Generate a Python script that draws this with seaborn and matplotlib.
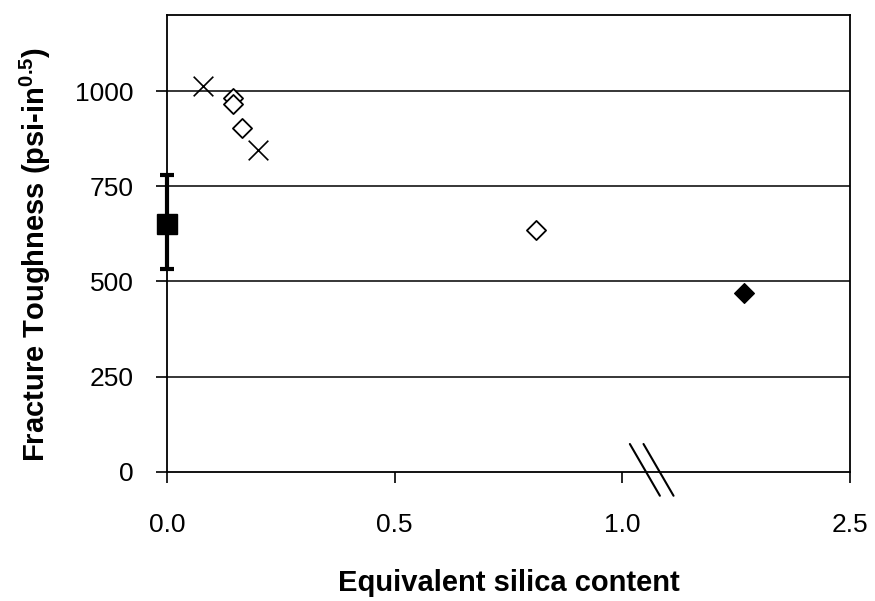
import matplotlib
matplotlib.use("Agg")
import matplotlib.pyplot as plt
import seaborn as sns

# axis positions (the axis is broken after 1.0; the last tick reads 2.5)
tick_pos = [0.0, 0.5, 1.0, 1.5]
tick_labels = ["0.0", "0.5", "1.0", "2.5"]
y_ticks = [0, 250, 500, 750, 1000]

cross_x = [0.079, 0.200]
cross_y = [1013, 846]

open_x = [0.145, 0.145, 0.164, 0.811]
open_y = [982, 966, 903, 634]

filled_x = [1.268]
filled_y = [469]

square_x = [0.0]
square_y = [652]
square_lo = [534]
square_hi = [780]

break_at = 1.065

sns.set_style("white")
plt.rcParams['font.family'] = ['Liberation Sans', 'DejaVu Sans']
plt.rcParams['mathtext.fontset'] = 'custom'
plt.rcParams['mathtext.rm'] = 'Liberation Sans'
plt.rcParams['mathtext.bf'] = 'Liberation Sans:bold'
for k in ['text.color', 'axes.labelcolor', 'xtick.color', 'ytick.color']:
    plt.rcParams[k] = 'black'

fig = plt.figure(figsize=(8.75, 6.01), dpi=100)
ax = fig.add_axes([0.191, 0.215, 0.780, 0.760])

for y in y_ticks[1:]:
    ax.axhline(y, color="black", lw=1.1, zorder=1)

sns.scatterplot(x=cross_x, y=cross_y, marker="x", s=200, color="black",
                linewidth=1.2, ax=ax, zorder=3)
sns.scatterplot(x=open_x, y=open_y, marker="D", s=95, facecolor="white",
                edgecolor="black", linewidth=1.3, ax=ax, zorder=3)
sns.scatterplot(x=filled_x, y=filled_y, marker="D", s=100, color="black",
                edgecolor="black", linewidth=1, ax=ax, zorder=3)

err = [[square_y[0] - square_lo[0]], [square_hi[0] - square_y[0]]]
ax.errorbar(square_x, square_y, yerr=err, fmt="s", ms=14, color="black",
            elinewidth=3, capsize=5, capthick=3, zorder=4, clip_on=False)

ax.set_xlim(0, 1.5)
ax.set_ylim(0, 1200)
ax.set_xticks(tick_pos)
ax.set_xticklabels(tick_labels)
ax.set_yticks(y_ticks)
ax.tick_params(axis="both", labelsize=19, direction="out", length=8,
               width=1.2, color="black", bottom=True, left=True)
ax.tick_params(axis="y", pad=16)
ax.tick_params(axis="x", pad=22)
for sp in ax.spines.values():
    sp.set_color("black")
    sp.set_linewidth(1.3)

ax.set_xlabel("Equivalent silica content", fontsize=21, fontweight="bold")
ax.set_ylabel(r"Fracture Toughness (psi-in$^{\mathbf{0.5}}$)", fontsize=21,
              fontweight="bold")
ax.xaxis.set_label_coords(0.5, -0.243)
ax.yaxis.set_label_coords(-0.193, 0.475)
ax.xaxis.label.set_va("center")
ax.yaxis.label.set_va("center")

# break marks on the x axis
for dx in [0.0, 0.03]:
    ax.plot([break_at - 0.048 + dx, break_at + 0.018 + dx], [73, -63],
            color="black", lw=1.5, clip_on=False, zorder=5)

fig.savefig("out.png", dpi=100)
